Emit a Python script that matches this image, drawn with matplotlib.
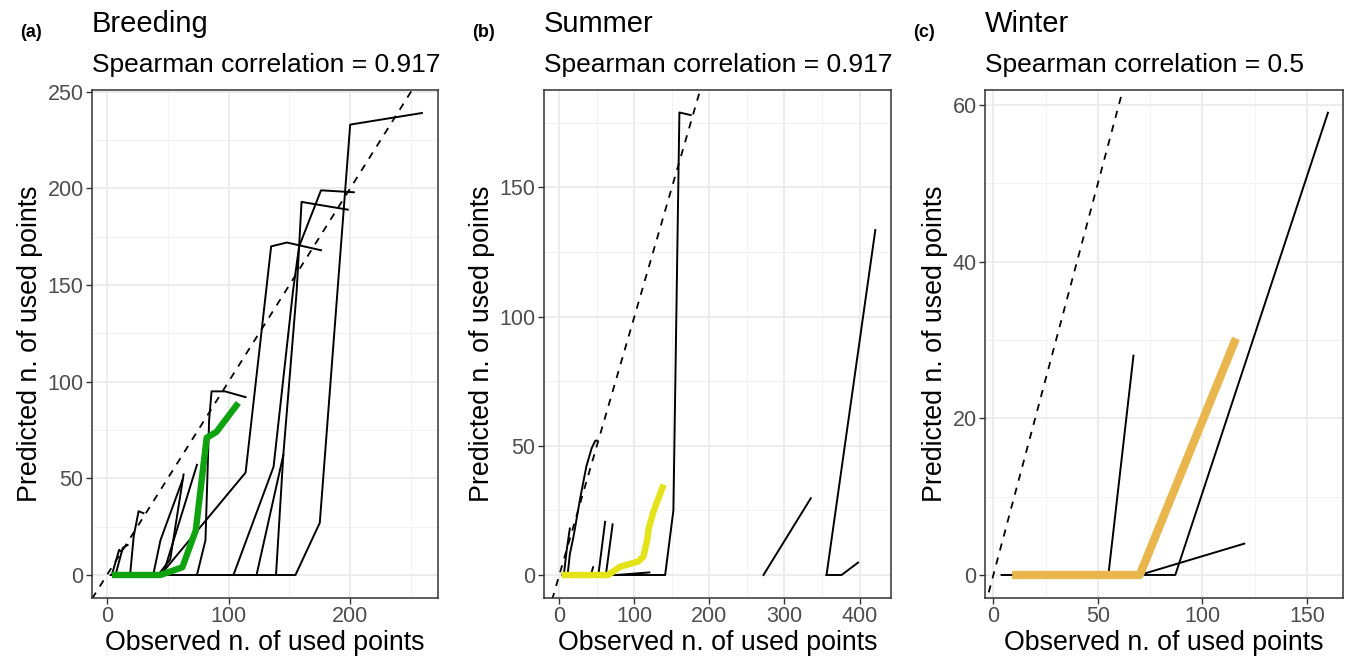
import numpy as np
import matplotlib.pyplot as plt

plt.rcParams['font.family'] = ['Liberation Sans', 'DejaVu Sans']

# Breeding: observed vs predicted n. of used points, one path per individual
breeding_obs = [
    [3, 155, 175, 200, 259],
    [104, 137, 153, 158, 176, 203],
    [139, 145, 156, 160, 198],
    [123, 145],
    [44, 114, 135, 148, 176],
    [74, 81, 84, 86, 97, 114],
    [19, 22, 26, 30],
    [4, 10, 12],
    [7, 13, 17],
    [38, 44, 62],
    [42, 52, 63],
    [46, 74],
]
breeding_pred = [
    [0, 0, 27, 233, 239],
    [0, 56, 147, 170, 199, 198],
    [0, 62, 147, 193, 189],
    [0, 62],
    [0, 53, 170, 172, 168],
    [0, 18, 80, 95, 95, 92],
    [0, 20, 33, 32],
    [0, 13, 12],
    [0, 14, 15.5],
    [0, 18, 49],
    [0, 8, 52],
    [0, 57],
]
breeding_mean_obs = [4, 44, 62, 73, 82, 90, 108]
breeding_mean_pred = [0, 0, 4, 23, 71, 74, 89]

# Summer
summer_obs = [
    [4, 141, 152, 160, 175],
    [11, 14, 19, 28, 36, 43, 48, 50],
    [6, 10, 14],
    [42, 45],
    [52, 61],
    [62, 71],
    [76, 120],
    [272, 335],
    [356, 421],
    [356, 376, 398],
]
summer_pred = [
    [0, 0, 25, 179, 178],
    [0, 8, 15, 30, 42, 49, 52, 52],
    [0, 10, 18],
    [0, 3],
    [0, 20.6],
    [0, 19.6],
    [0, 1],
    [0, 29.7],
    [0, 133.5],
    [0, 0, 4.8],
]
summer_mean_obs = [3, 65, 81, 105, 112, 117, 119, 126, 139]
summer_mean_pred = [0, 0, 3.2, 5.2, 7.1, 13.5, 18, 25, 35]

# Winter
winter_obs = [
    [4, 55, 67],
    [4, 87, 160],
    [70, 120],
]
winter_pred = [
    [0, 0, 28],
    [0, 0, 59],
    [0, 4],
]
winter_mean_obs = [9, 70, 116]
winter_mean_pred = [0, 0, 30.2]

panels = [
    dict(tag="(a)", title="Breeding", rho="0.917",
         obs=breeding_obs, pred=breeding_pred,
         mobs=breeding_mean_obs, mpred=breeding_mean_pred,
         color="#0FA30F", lw=4.6,
         xlim=(-12.3, 272.2), ylim=(-11.9, 250.9),
         xt=[0, 100, 200], yt=[0, 50, 100, 150, 200, 250],
         pos=[92, 90, 438, 598]),
    dict(tag="(b)", title="Summer", rho="0.917",
         obs=summer_obs, pred=summer_pred,
         mobs=summer_mean_obs, mpred=summer_mean_pred,
         color="#E3E317", lw=4.6,
         xlim=(-20.4, 441.9), ylim=(-8.9, 187.7),
         xt=[0, 100, 200, 300, 400], yt=[0, 50, 100, 150],
         pos=[544, 90, 891, 598]),
    dict(tag="(c)", title="Winter", rho="0.5",
         obs=winter_obs, pred=winter_pred,
         mobs=winter_mean_obs, mpred=winter_mean_pred,
         color="#E8B64C", lw=6,
         xlim=(-4, 167.2), ylim=(-2.94, 61.9),
         xt=[0, 50, 100, 150], yt=[0, 20, 40, 60],
         pos=[985, 90, 1343, 598]),
]

W, H = 1346, 663
fig = plt.figure(figsize=(W / 100, H / 100), dpi=100)

for p in panels:
    l, t, r, b = p["pos"]
    ax = fig.add_axes([l / W, 1 - b / H, (r - l) / W, (b - t) / H])

    # grid, ggplot theme_bw style
    xt, yt = p["xt"], p["yt"]
    dx, dy = xt[1] - xt[0], yt[1] - yt[0]
    xminor = np.arange(xt[0] - dx / 2, xt[-1] + dx, dx)
    yminor = np.arange(yt[0] - dy / 2, yt[-1] + dy, dy)
    for v in xminor:
        ax.axvline(v, color="#F2F2F2", lw=0.7, zorder=0)
    for v in yminor:
        ax.axhline(v, color="#F2F2F2", lw=0.7, zorder=0)
    for v in xt:
        ax.axvline(v, color="#EBEBEB", lw=1.3, zorder=0)
    for v in yt:
        ax.axhline(v, color="#EBEBEB", lw=1.3, zorder=0)

    lo = min(p["xlim"][0], p["ylim"][0])
    hi = max(p["xlim"][1], p["ylim"][1])
    ax.plot([lo, hi], [lo, hi], color="black", lw=1.3, ls=(0, (4, 4)), zorder=2)

    for xs, ys in zip(p["obs"], p["pred"]):
        ax.plot(xs, ys, color="black", lw=1.4, zorder=3)
    ax.plot(p["mobs"], p["mpred"], color=p["color"], lw=p["lw"], zorder=4,
            solid_capstyle="butt")

    ax.set_xlim(p["xlim"])
    ax.set_ylim(p["ylim"])
    ax.set_xticks(xt)
    ax.set_yticks(yt)
    ax.tick_params(direction="out", length=4, width=1, color="#333333",
                   labelcolor="#4D4D4D", labelsize=15.5, pad=2)
    for s in ax.spines.values():
        s.set_color("#333333")
        s.set_linewidth(1.1)
    ax.set_xlabel("Observed n. of used points", fontsize=19.3, labelpad=2)
    ax.set_ylabel("Predicted n. of used points", fontsize=19.3, labelpad=3)

    fig.text(l / W, 1 - 32 / H, p["title"], fontsize=21, ha="left",
             va="baseline")
    fig.text(l / W, 1 - 72 / H, "Spearman correlation = " + p["rho"],
             fontsize=19, ha="left", va="baseline")
    fig.text((l - 72) / W, 1 - 37 / H, p["tag"], fontsize=13,
             fontweight="bold", ha="left", va="baseline")

fig.savefig("out.png", dpi=100)
